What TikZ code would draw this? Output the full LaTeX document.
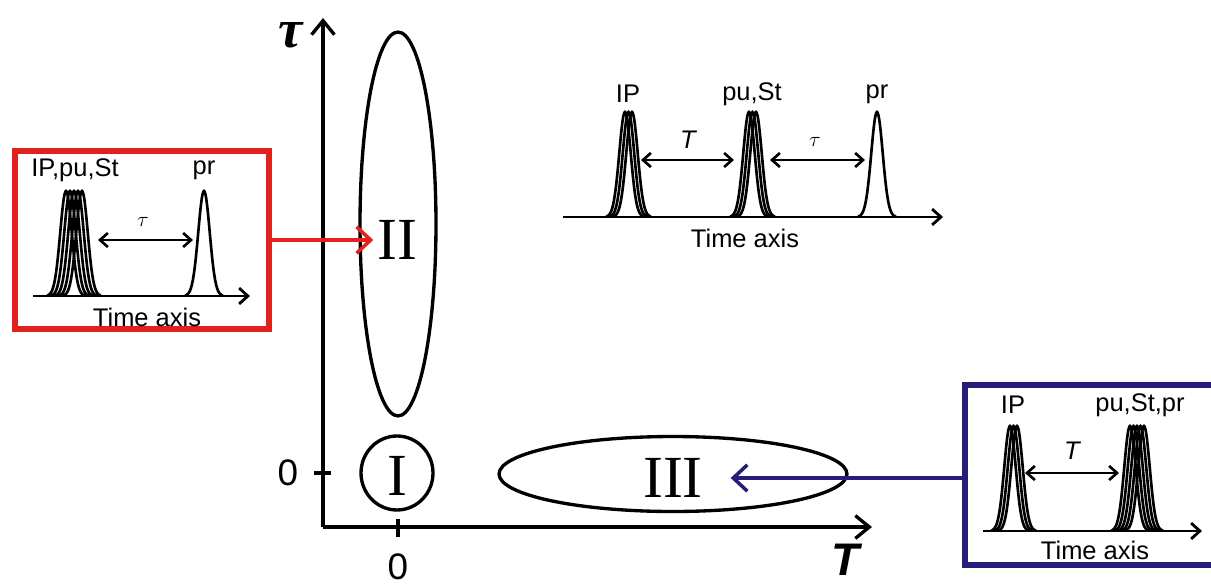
\documentclass[tikz,border=0pt]{standalone}
\usepackage{fontspec}
\setmainfont{Liberation Sans}
\newfontfamily\romfont{Liberation Serif}
\usetikzlibrary{arrows.meta,shapes.geometric,positioning}

\definecolor{boxred}{RGB}{226,32,30}
\definecolor{boxblue}{RGB}{38,28,122}

\tikzset{
  mainaxis/.style={line width=1.9pt, -{Straight Barb[length=8pt,width=13pt,line width=1.9pt]}},
  taxis/.style={line width=1.6pt, -{Straight Barb[length=5pt,width=9pt,line width=1.6pt]}},
  delay/.style={line width=1.5pt, {Straight Barb[length=4.5pt,width=8pt,line width=1.5pt]}-{Straight Barb[length=4.5pt,width=8pt,line width=1.5pt]}},
  pulseline/.style={line width=1.5pt},
  lab/.style={font=\fontsize{14.5}{15}\selectfont, inner sep=0pt},
  roman/.style={font=\romfont\fontsize{34}{34}\selectfont, inner sep=2pt},
  region/.style={draw, ellipse, line width=1.9pt, inner sep=0pt},
  panel/.style={draw, rectangle, line width=3.4pt, inner sep=0pt},
  pointer/.style={line width=2pt, -{Straight Barb[length=8pt,width=15pt,line width=2pt]}}
}

% one Gaussian pulse: centre x, base line y
\newcommand{\pulse}[2]{%
  \draw[pulseline] plot[domain=-19:19, samples=61, smooth, variable=\t]
    ({#1+\t}, {#2-105*exp(-\t*\t/66)});}

\begin{document}
\begin{tikzpicture}[x=0.02cm, y=-0.02cm]
  \useasboundingbox (0,0) rectangle (1211,585);
  \clip (0,0) rectangle (1211,585);

  % Main axes
  \coordinate (O) at (323,527);
  \coordinate (taxtip) at (323,18);
  \coordinate (Taxtip) at (872,527);
  \draw[mainaxis] (O) -- (taxtip);
  \draw[mainaxis] (O) -- (Taxtip);
  \node[font=\romfont\bfseries\itshape\fontsize{31}{31}\selectfont, anchor=base, inner sep=0pt] (taulab) at (291,47) {τ};
  \node[font=\bfseries\itshape\fontsize{26}{26}\selectfont, anchor=base, inner sep=0pt] (Tlab) at (845,575) {T};

  % Ticks
  \draw[line width=1.8pt] (398,519) -- (398,537);
  \draw[line width=1.8pt] (314,473) -- (331,473);
  \node[font=\fontsize{21}{21}\selectfont] (zeroT) at (398,567) {0};
  \node[font=\fontsize{21}{21}\selectfont] (zerotau) at (288,473) {0};

  % Regions
  \node[region, minimum width=1.44cm, minimum height=1.48cm] (r1) at (397,473) {};
  \node[region, minimum width=1.52cm, minimum height=7.68cm] (r2) at (398,224) {};
  \node[region, minimum width=6.96cm, minimum height=1.5cm] (r3) at (673,474) {};
  \node[roman] (l1) at (397,476) {I};
  \node[roman] (l2) at (397,240) {II};
  \node[roman] (l3) at (673,478) {III};

  % Panel II: tau scan, T = 0
  \node[panel, draw=boxred, minimum width=5.08cm, minimum height=3.56cm] (rbox) at (142,240) {};
  \begin{scope}
    \draw[taxis] (33,296) -- (250,296);
    \foreach \c in {66,70,74,78,82} {\pulse{\c}{296}}
    \pulse{204}{296}
    \node[lab] (rip) at (75,170) {IP,pu,St};
    \node[lab] (rpr) at (204,170) {pr};
    \node[lab] (rtime) at (147,317) {Time axis};
    \coordinate (ra) at (98,240);
    \coordinate (rb) at (193,240);
    \draw[delay] (ra) -- (rb);
    \node[lab, font=\fontsize{13}{13}\selectfont] (rtau) at (143,222) {$\tau$};
  \end{scope}
  \draw[pointer, boxred] (rbox.east |- l2) -- (l2.west);

  % General case: T and tau
  \begin{scope}
    \draw[taxis] (563,217) -- (943,217);
    \foreach \c in {625,628.5,632} {\pulse{\c}{217}}
    \foreach \c in {749,752.5,756} {\pulse{\c}{217}}
    \pulse{877}{217}
    \node[lab] (mip) at (628,94) {IP};
    \node[lab] (mpu) at (752,94) {pu,St};
    \node[lab] (mpr) at (877,94) {pr};
    \node[lab] (mtime) at (745,238) {Time axis};
    \coordinate (ma) at (641,160);
    \coordinate (mb) at (734,160);
    \coordinate (mc) at (770,160);
    \coordinate (md) at (865,160);
    \draw[delay] (ma) -- (mb);
    \draw[delay] (mc) -- (md);
    \node[lab, font=\itshape\fontsize{14.5}{15}\selectfont] (mT) at (688,140) {T};
    \node[lab, font=\fontsize{13}{13}\selectfont] (mtau) at (815,142) {$\tau$};
  \end{scope}

  % Panel III: T scan, tau = 0
  \node[panel, draw=boxblue, minimum width=5.04cm, minimum height=3.6cm] (bbox) at (1091,475) {};
  \begin{scope}
    \draw[taxis] (983,531) -- (1202,531);
    \foreach \c in {1010,1013.5,1017} {\pulse{\c}{531}}
    \foreach \c in {1130,1133.5,1137,1140.5,1144} {\pulse{\c}{531}}
    \node[lab] (bip) at (1013,405) {IP};
    \node[lab] (bpu) at (1140,405) {pu,St,pr};
    \node[lab] (btime) at (1095,550) {Time axis};
    \coordinate (ba) at (1025,473);
    \coordinate (bb) at (1119,473);
    \draw[delay] (ba) -- (bb);
    \node[lab, font=\itshape\fontsize{14.5}{15}\selectfont] (bT) at (1072,451) {T};
  \end{scope}
  \draw[pointer, boxblue] (bbox.west |- l3) -- ([xshift=0.48cm]l3.east);
\end{tikzpicture}
\end{document}
